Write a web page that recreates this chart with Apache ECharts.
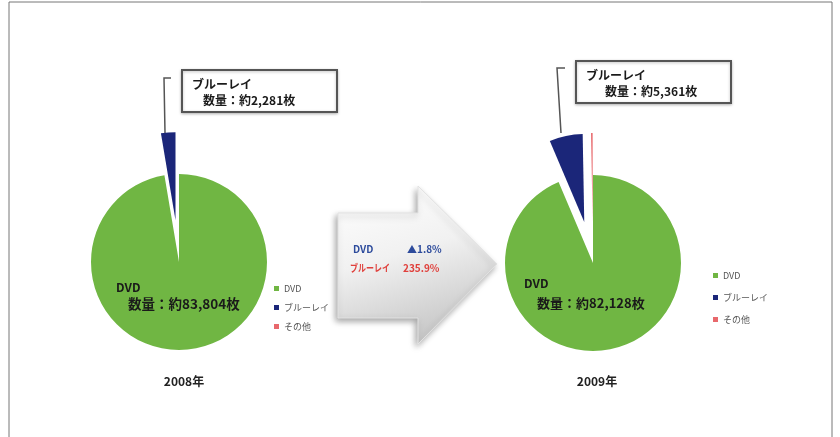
<!DOCTYPE html>
<html>
<head>
<meta charset="UTF-8">
<title>DVD / ブルーレイ</title>
<script src="https://cdn.jsdelivr.net/npm/echarts@6/dist/echarts.min.js"></script>
<style>
  html, body { margin: 0; padding: 0; background: #fff; }
  #main { width: 840px; height: 437px; }
</style>
</head>
<body>
<div id="main"></div>
<script>
// データ
var years = ['2008年', '2009年'];
var categories = ['DVD', 'ブルーレイ', 'その他'];
var values2008 = [83804, 2281, 0];
var values2009 = [82128, 5361, 250];
var changeNames = ['DVD', 'ブルーレイ'];
var changeTexts = ['▲1.8%', '235.9%'];

var colors = ['#70b643', '#1b2679', '#e8686c'];
var font = '"Noto Sans CJK JP", sans-serif';

function fmt(n) {
  return n.toLocaleString('en-US');
}

// 円グラフ1本分
function makePie(values, center, opt) {
  var data = [];
  for (var i = 0; i < categories.length; i++) {
    var item = { name: categories[i], value: values[i] };
    if (i > 0) item.selected = true;
    if (i == 0) {
      item.label = {
        show: true,
        position: 'inside',
        formatter: '{a|DVD}\n{b|数量：約' + fmt(values[0]) + '枚}',
        padding: opt.padding,
        rich: {
          a: { fontSize: 12, fontWeight: 'bold', color: '#1a1a1a', align: 'left', lineHeight: opt.lh },
          b: { fontSize: opt.fs, fontWeight: 'bold', color: '#1a1a1a', align: 'left', lineHeight: opt.lh, padding: [0, 0, 0, opt.indent] }
        }
      };
    }
    data.push(item);
  }
  return {
    type: 'pie',
    center: center,
    radius: 88,
    clockwise: true,
    startAngle: 90,
    selectedMode: 'multiple',
    selectedOffset: 42,
    avoidLabelOverlap: false,
    label: { show: false, fontFamily: font },
    labelLine: { show: false },
    emphasis: { disabled: true },
    itemStyle: { borderWidth: 0 },
    data: data
  };
}

// ブルーレイの吹き出し
function callout(x, y, value, indent, leader) {
  return {
    type: 'group',
    silent: true,
    children: [
      { type: 'polyline', shape: { points: leader }, style: { stroke: '#555', lineWidth: 1.5, fill: 'none' } },
      {
        type: 'rect', shape: { x: x, y: y, width: 155, height: 42 },
        style: { fill: '#fff', stroke: '#555', lineWidth: 2, shadowBlur: 3, shadowColor: 'rgba(0,0,0,0.25)', shadowOffsetY: 1 }
      },
      {
        type: 'text', x: x + 10, y: y + 6,
        style: {
          text: '{t|ブルーレイ}\n{v|数量：約' + fmt(value) + '枚}',
          rich: {
            t: { font: 'bold 12px ' + font, fill: '#1a1a1a', lineHeight: 16 },
            v: { font: 'bold 12px ' + font, fill: '#1a1a1a', lineHeight: 17, padding: [0, 0, 0, indent] }
          }
        }
      }
    ]
  };
}

var chart = echarts.init(document.getElementById('main'));
var legendText = { fontSize: 9, color: '#555', fontFamily: font };
var arrowFont = 'bold 10px ' + font;
var option = {
  animation: false,
  color: colors,
  textStyle: { fontFamily: font },
  title: [
    { text: years[0], left: 179, top: 370, textAlign: 'center', textStyle: { fontSize: 12, fontWeight: 'bold', color: '#222', fontFamily: font } },
    { text: years[1], left: 592, top: 370, textAlign: 'center', textStyle: { fontSize: 12, fontWeight: 'bold', color: '#222', fontFamily: font } }
  ],
  legend: [
    {
      orient: 'vertical', left: 269, top: 279, itemWidth: 5, itemHeight: 5, icon: 'rect',
      itemGap: 10, selectedMode: false, data: categories, textStyle: legendText
    },
    {
      orient: 'vertical', left: 708, top: 266, itemWidth: 5, itemHeight: 5, icon: 'rect',
      itemGap: 13, selectedMode: false, data: categories, textStyle: legendText
    }
  ],
  series: [
    makePie(values2008, [179, 262], { padding: [0, 10, 26, 0], lh: 16, indent: 12, fs: 13.5 }),
    makePie(values2009, [593, 263], { padding: [0, 36, 32, 0], lh: 20, indent: 13, fs: 13 })
  ],
  graphic: [
    // 外枠
    { type: 'rect', shape: { x: 9, y: 2, width: 823, height: 440 }, style: { fill: 'none', stroke: '#777', lineWidth: 1 }, silent: true },
    callout(182, 70, values2008[1], 11, [[171, 78], [164, 78], [165, 133]]),
    callout(576, 61, values2009[1], 19, [[565, 68], [557, 68], [561, 133]]),
    // 矢印
    {
      type: 'polygon',
      shape: { points: [[338, 213], [418, 213], [418, 186], [497, 264], [418, 344], [418, 318], [338, 318]] },
      style: {
        fill: new echarts.graphic.LinearGradient(0, 0, 0.3, 1, [
          { offset: 0, color: '#ffffff' },
          { offset: 0.5, color: '#f1f1f1' },
          { offset: 1, color: '#c9c9c9' }
        ]),
        stroke: '#e2e2e2',
        lineWidth: 1,
        shadowBlur: 6,
        shadowOffsetX: -2,
        shadowOffsetY: 3,
        shadowColor: 'rgba(0,0,0,0.35)'
      },
      silent: true
    },
    { type: 'text', x: 353, y: 244, style: { text: changeNames[0], fill: '#2d4b9c', font: arrowFont } },
    { type: 'text', x: 407, y: 244, style: { text: changeTexts[0], fill: '#2d4b9c', font: arrowFont } },
    { type: 'text', x: 350, y: 263, scaleX: 0.8, style: { text: changeNames[1], fill: '#e0403c', font: arrowFont } },
    { type: 'text', x: 403, y: 263, style: { text: changeTexts[1], fill: '#e0403c', font: arrowFont } }
  ]
};
chart.setOption(option);
</script>
</body>
</html>
